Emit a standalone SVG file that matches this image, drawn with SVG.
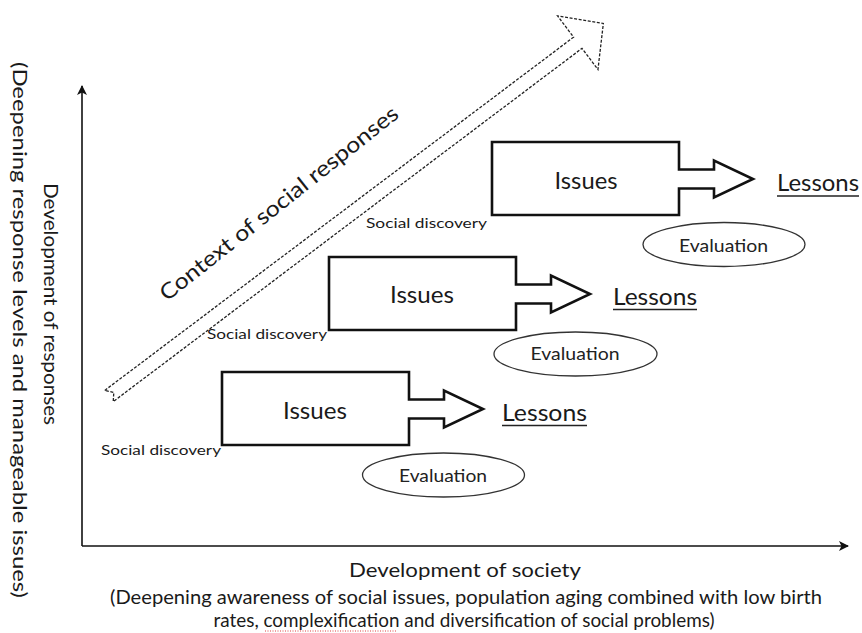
<svg xmlns="http://www.w3.org/2000/svg" width="862" height="633" viewBox="0 0 862 633">
  <style>
    text { font-family: Lato, "Open Sans", "Liberation Sans", sans-serif; fill: #1a1a1a; }
    .axis { stroke: #111; stroke-width: 1.6; fill: none; }
    .box { fill: #fff; stroke: #111; stroke-width: 2.6; stroke-linejoin: miter; }
    .eval { fill: #fff; stroke: #333; stroke-width: 1.3; }
    .issues { font-size: 23px; text-anchor: middle; }
    .lessons { font-size: 23px; }
    .uline { stroke: #222; stroke-width: 1.3; }
    .evaltxt { font-size: 17px; text-anchor: middle; fill: #222; }
    .disc { font-size: 13px; }
    .ctx { stroke: #222; stroke-width: 1.3; stroke-dasharray: 3 1.6; fill: #fff; }
    .lbl { font-size: 19px; text-anchor: middle; }
  </style>
  <defs>
    <!-- issue box with its block arrow, origin at top-left of the box -->
    <path id="issueShape" d="M0,0 H187 V27.5 H222 V18.5 L261,37 L222,55.5 V46.5 H187 V73 H0 Z"/>
    <marker id="axisHead" viewBox="0 0 10 10" refX="9" refY="5" markerWidth="10" markerHeight="10" markerUnits="userSpaceOnUse" orient="auto">
      <path d="M0,0 L10,5 L0,10 L2.5,5 Z" fill="#111"/>
    </marker>
  </defs>

  <rect width="862" height="633" fill="#fff"/>

  <!-- axes -->
  <g id="connectors">
    <path class="axis" d="M82,546 V86" marker-end="url(#axisHead)"/>
    <path class="axis" d="M82,546 H848" marker-end="url(#axisHead)"/>
  </g>

  <!-- axis captions -->
  <g id="y-axis-label">
    <text class="lbl" transform="translate(44,304) rotate(90)" textLength="242" lengthAdjust="spacingAndGlyphs">Development of responses</text>
    <text class="lbl" transform="translate(13,330) rotate(90)" textLength="536" lengthAdjust="spacingAndGlyphs">(Deepening response levels and manageable issues)</text>
  </g>
  <g id="x-axis-label">
    <text class="lbl" x="465" y="577" textLength="232" lengthAdjust="spacingAndGlyphs">Development of society</text>
    <text class="lbl" x="466" y="604" textLength="712" lengthAdjust="spacingAndGlyphs">(Deepening awareness of social issues, population aging combined with low birth</text>
    <text class="lbl" x="464" y="627" textLength="501" lengthAdjust="spacingAndGlyphs">rates, complexification and diversification of social problems)</text>
    <path d="M265,631 H397" stroke="#e04040" stroke-width="1" stroke-dasharray="1 1.5"/>
  </g>

  <!-- broad dashed arrow: context of social responses -->
  <g id="context-arrow">
    <path class="ctx" transform="translate(109,396) rotate(-37)" d="M0,-7 L587,-7 L587,-33.5 L619,0 L587,33.5 L587,7 L0,7 L6,0 Z"/>
    <text transform="translate(167,302) rotate(-38.5)" font-size="22" textLength="298" lengthAdjust="spacingAndGlyphs">Context of social responses</text>
  </g>

  <!-- stage 1 -->
  <g id="stage1">
    <use href="#issueShape" class="box" x="222" y="372"/>
    <text class="issues" x="315" y="419" textLength="64" lengthAdjust="spacingAndGlyphs">Issues</text>
    <text class="lessons" x="502" y="421" textLength="85" lengthAdjust="spacingAndGlyphs">Lessons</text>
    <line class="uline" x1="502" y1="425.5" x2="587" y2="425.5"/>
    <text class="disc" x="101" y="455" textLength="120" lengthAdjust="spacingAndGlyphs">Social discovery</text>
  </g>
  <g id="eval1">
    <ellipse class="eval" cx="443.5" cy="475" rx="81" ry="22"/>
    <text class="evaltxt" x="443" y="482" textLength="88" lengthAdjust="spacingAndGlyphs">Evaluation</text>
  </g>

  <!-- stage 2 -->
  <g id="stage2">
    <use href="#issueShape" class="box" x="329" y="257"/>
    <text class="issues" x="422" y="303" textLength="64" lengthAdjust="spacingAndGlyphs">Issues</text>
    <text class="lessons" x="613" y="305" textLength="84" lengthAdjust="spacingAndGlyphs">Lessons</text>
    <line class="uline" x1="613" y1="309.5" x2="697" y2="309.5"/>
    <text class="disc" x="207" y="339" textLength="120" lengthAdjust="spacingAndGlyphs">Social discovery</text>
  </g>
  <g id="eval2">
    <ellipse class="eval" cx="575.5" cy="354" rx="81.5" ry="22"/>
    <text class="evaltxt" x="575" y="360" textLength="89" lengthAdjust="spacingAndGlyphs">Evaluation</text>
  </g>

  <!-- stage 3 -->
  <g id="stage3">
    <use href="#issueShape" class="box" x="492" y="142"/>
    <text class="issues" x="586" y="189" textLength="63" lengthAdjust="spacingAndGlyphs">Issues</text>
    <text class="lessons" x="777" y="191" textLength="82" lengthAdjust="spacingAndGlyphs">Lessons</text>
    <line class="uline" x1="777" y1="196" x2="859" y2="196"/>
    <text class="disc" x="366" y="228" textLength="121" lengthAdjust="spacingAndGlyphs">Social discovery</text>
  </g>
  <g id="eval3">
    <ellipse class="eval" cx="724" cy="244.5" rx="81" ry="22"/>
    <text class="evaltxt" x="723.5" y="252" textLength="89" lengthAdjust="spacingAndGlyphs">Evaluation</text>
  </g>
</svg>
